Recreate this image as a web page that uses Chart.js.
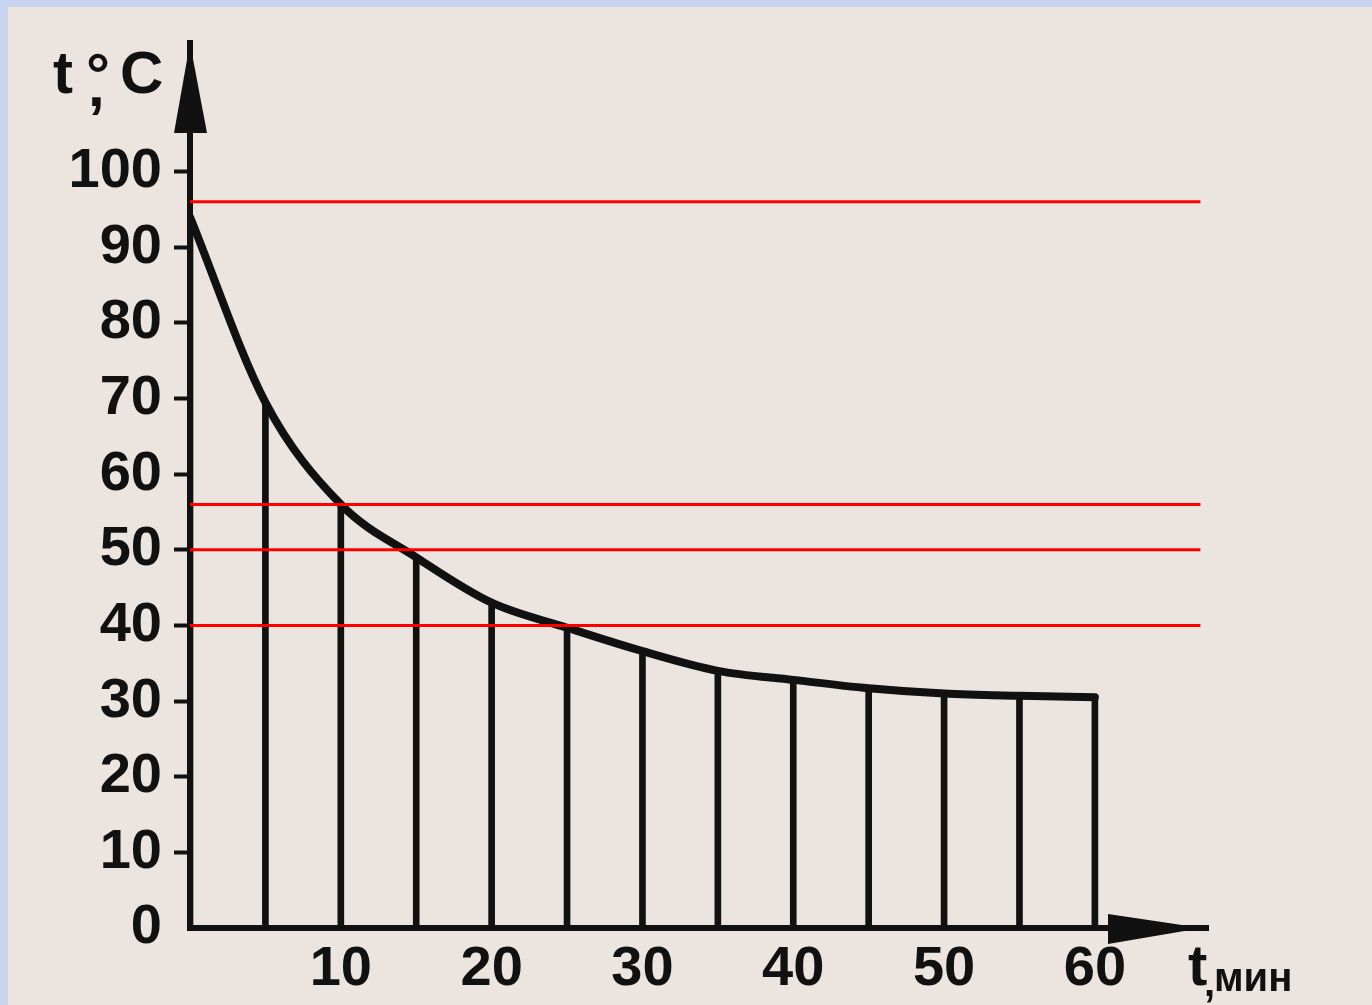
<!DOCTYPE html>
<html>
<head>
<meta charset="utf-8">
<script src="https://cdn.jsdelivr.net/npm/chart.js@4/dist/chart.umd.min.js"></script>
<style>
    body { margin: 0; background: #c9d4f1; width: 1372px; height: 1005px; overflow: hidden; }
    #sheet { position: absolute; left: 8px; top: 7px; width: 1364px; height: 998px; background: #ece4df; }
</style>
</head>
<body>
<div id="sheet"><canvas id="cooling-canvas" width="1364" height="998"></canvas></div>
<script>
var times = [0, 5, 10, 15, 20, 25, 30, 35, 40, 45, 50, 55, 60]
var temps = [94, 69.5, 56, 49, 43, 39.7, 36.6, 34, 32.8, 31.7, 31, 30.7, 30.5]
var redLevels = [96, 56, 50, 40]
var redEnd = 67
var yTickLabels = [0, 10, 20, 30, 40, 50, 60, 70, 80, 90, 100]
var xTickLabels = [10, 20, 30, 40, 50, 60]

function get_points(xs, ys) {
    pointList = []
    for (let i = 0; i < xs.length; i++) {
        pointList.push({x: xs[i], y: ys[i]})
    }
    return pointList
}

function get_red_datasets(levels) {
    datasetList = []
    for (let i = 0; i < levels.length; i++) {
        datasetList.push({
            type: 'line',
            data: [{x: 0, y: levels[i]}, {x: redEnd, y: levels[i]}],
            borderColor: '#ff0000',
            borderWidth: 3,
            pointRadius: 0,
            order: 0
        })
    }
    return datasetList
}

// arrows and axis names
var axisDecor = {
    id: 'axisDecor',
    afterDraw: function (chart) {
        var ctx = chart.ctx
        var ca = chart.chartArea
        ctx.save()
        ctx.fillStyle = '#111'
        // y arrow
        ctx.beginPath()
        ctx.moveTo(ca.left, ca.top)
        ctx.lineTo(ca.left - 16, ca.top + 90)
        ctx.lineTo(ca.left + 17, ca.top + 90)
        ctx.closePath()
        ctx.fill()
        // x arrow
        ctx.beginPath()
        ctx.moveTo(ca.right - 6, ca.bottom)
        ctx.lineTo(ca.right - 100, ca.bottom - 14)
        ctx.lineTo(ca.right - 100, ca.bottom + 16)
        ctx.closePath()
        ctx.fill()

        ctx.textAlign = 'left'
        ctx.textBaseline = 'alphabetic'
        ctx.font = 'bold 60px "Liberation Sans"'
        ctx.fillText('t', ca.left - 137, ca.top + 50)
        ctx.fillText('°', ca.left - 104, ca.top + 52)
        ctx.fillText(',', ca.left - 102, ca.top + 63)
        ctx.fillText('C', ca.left - 70, ca.top + 50)

        ctx.font = 'bold 58px "Liberation Sans"'
        ctx.fillText('t', ca.right - 20, ca.bottom + 57)
        ctx.font = 'bold 40px "Liberation Sans"'
        ctx.fillText(',', ca.right - 4, ca.bottom + 68)
        ctx.fillText('мин', ca.right + 6, ca.bottom + 63)
        ctx.restore()
    }
}

var ctx = document.getElementById('cooling-canvas').getContext('2d')
var coolingChart = new Chart(ctx, {
    type: 'line',
    data: {
        datasets: get_red_datasets(redLevels).concat([
            {
                type: 'line',
                data: get_points(times, temps),
                borderColor: '#111',
                borderWidth: 8,
                cubicInterpolationMode: 'monotone',
                borderCapStyle: 'round',
                pointRadius: 0,
                order: 1
            },
            {
                type: 'bar',
                data: get_points(times, temps),
                backgroundColor: '#111',
                barThickness: 6,
                order: 2
            }
        ])
    },
    options: {
        responsive: false,
        animation: false,
        events: [],
        layout: {
            padding: {left: 0, right: 164, top: 36, bottom: 0}
        },
        plugins: {
            legend: {display: false},
            tooltip: {enabled: false}
        },
        scales: {
            x: {
                type: 'linear',
                min: 0,
                max: 67.5,
                offset: false,
                afterFit: function (scale) {
                    scale.height = 77
                    scale.paddingLeft = 0
                    scale.paddingRight = 0
                },
                border: {display: true, color: '#111', width: 6},
                grid: {drawOnChartArea: false, drawTicks: false},
                ticks: {
                    stepSize: 10,
                    includeBounds: false,
                    autoSkip: false,
                    maxRotation: 0,
                    padding: 8,
                    color: '#111',
                    font: {family: 'Liberation Sans', weight: 'bold', size: 56},
                    callback: function (v) { return xTickLabels.indexOf(v) >= 0 ? v : '' }
                }
            },
            y: {
                min: 0,
                max: 117,
                afterFit: function (scale) {
                    scale.width = 182
                    scale.paddingTop = 0
                    scale.paddingBottom = 0
                },
                border: {display: true, color: '#111', width: 6},
                grid: {
                    drawOnChartArea: false,
                    drawTicks: true,
                    tickLength: 16,
                    tickWidth: 4,
                    tickColor: function (c) { return c.tick && yTickLabels.indexOf(c.tick.value) > 0 ? '#111' : 'rgba(0,0,0,0)' }
                },
                ticks: {
                    stepSize: 10,
                    includeBounds: false,
                    autoSkip: false,
                    padding: 12,
                    color: '#111',
                    font: {family: 'Liberation Sans', weight: 'bold', size: 56},
                    callback: function (v) { return yTickLabels.indexOf(v) >= 0 ? v : '' }
                }
            }
        }
    },
    plugins: [axisDecor]
});
</script>
</body>
</html>
